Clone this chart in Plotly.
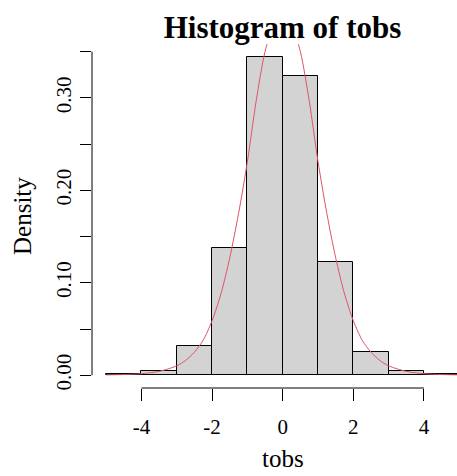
import plotly.graph_objects as go

# ---- data ----
breaks = [-5, -4, -3, -2, -1, 0, 1, 2, 3, 4, 5]
density = [0.001, 0.005, 0.032, 0.138, 0.344, 0.324, 0.122, 0.025, 0.005, 0.001]

curve_x = [-5, -4.5, -4, -3.5, -3, -2.75, -2.5, -2.25, -2, -1.75, -1.5, -1.25, -1,
           -0.75, -0.5, -0.25, 0, 0.25, 0.5, 0.75, 1, 1.25, 1.5, 1.75, 2, 2.25,
           2.5, 2.75, 3, 3.5, 4, 4.5, 5]
curve_y = [0.0004, 0.0008, 0.0017, 0.0042, 0.0102, 0.016, 0.025, 0.038, 0.059, 0.088,
           0.127, 0.175, 0.231, 0.297, 0.350, 0.380, 0.392, 0.380, 0.350, 0.297, 0.231,
           0.175, 0.127, 0.088, 0.059, 0.038, 0.025, 0.016, 0.0102, 0.0042, 0.0017,
           0.0008, 0.0004]

x_ticks = [-4, -2, 0, 2, 4]
y_ticks = [0.00, 0.05, 0.10, 0.15, 0.20, 0.25, 0.30, 0.35]
y_ticklabels = ["0.00", "", "0.10", "", "0.20", "", "0.30", ""]

title_text = "Histogram of tobs"
x_title = "tobs"
y_title = "Density"

# ---- geometry ----
W, H = 457, 476
ML, MR, MT, MB = 92, 0, 44, 88
PW, PH = W - ML - MR, H - MT - MB
FONT = "Liberation Serif"

mids = [(a + b) / 2 for a, b in zip(breaks[:-1], breaks[1:])]
widths = [b - a for a, b in zip(breaks[:-1], breaks[1:])]

fig = go.Figure()
fig.add_trace(go.Bar(
    x=mids, y=density, width=widths,
    marker=dict(color="#D3D3D3", line=dict(color="black", width=1)),
    showlegend=False, hoverinfo="skip",
))
fig.add_trace(go.Scatter(
    x=curve_x, y=curve_y, mode="lines",
    line=dict(color="#DF536B", width=1, shape="spline", smoothing=0.8),
    showlegend=False, hoverinfo="skip",
))

# R-style axis lines spanning only the tick range
fig.add_shape(type="line", xref="x", yref="paper",
              x0=min(x_ticks), x1=max(x_ticks), y0=0, y1=0,
              line=dict(color="black", width=1))
fig.add_shape(type="line", xref="paper", yref="y",
              x0=0, x1=0, y0=min(y_ticks), y1=max(y_ticks),
              line=dict(color="black", width=1))

fig.update_layout(
    width=W, height=H,
    margin=dict(l=ML, r=MR, t=MT, b=MB, pad=0),
    paper_bgcolor="white", plot_bgcolor="white",
    bargap=0,
    font=dict(family=FONT, color="black", size=21),
    title=dict(text="<b>" + title_text + "</b>",
               font=dict(family=FONT, size=31, color="black"),
               xref="container", yref="container",
               x=282.5 / W, y=1 - 27 / H, xanchor="center", yanchor="middle"),
    xaxis=dict(range=[-5.4, 4.935], showgrid=False, zeroline=False, showline=False,
               tickvals=x_ticks, ticktext=[str(v) for v in x_ticks],
               ticks="outside", ticklen=12, tickwidth=1, tickcolor="black",
               ticklabelstandoff=8,
               tickfont=dict(family=FONT, size=21, color="black")),
    yaxis=dict(range=[-0.01378, 0.3583], showgrid=False, zeroline=False, showline=False,
               tickvals=y_ticks, ticktext=y_ticklabels, tickangle=-90,
               ticks="outside", ticklen=11, tickwidth=1, tickcolor="black",
               ticklabelstandoff=1,
               tickfont=dict(family=FONT, size=21, color="black")),
    annotations=[
        dict(text=x_title, xref="paper", yref="paper",
             x=(282.8 - ML) / PW, y=-(458 - (MT + PH)) / PH,
             xanchor="center", yanchor="middle", showarrow=False,
             font=dict(family=FONT, size=25, color="black")),
        dict(text=y_title, xref="paper", yref="paper",
             x=(22 - ML) / PW, y=0.5, textangle=-90,
             xanchor="center", yanchor="middle", showarrow=False,
             font=dict(family=FONT, size=25, color="black")),
    ],
)

fig.write_html("out.html")
